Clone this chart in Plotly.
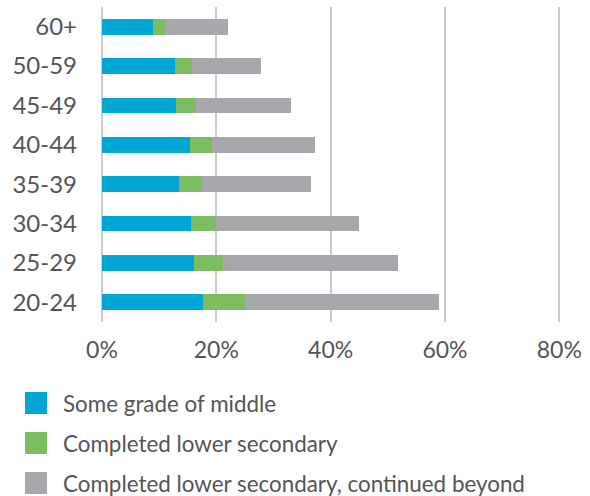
import plotly.graph_objects as go

# Age groups, top to bottom as shown
age_groups = ["60+", "50-59", "45-49", "40-44", "35-39", "30-34", "25-29", "20-24"]

# Share of each age group (%) by schooling level
some_middle = [8.9, 12.8, 12.9, 15.4, 13.5, 15.6, 16.1, 17.7]
completed_lower = [2.3, 3.0, 3.6, 3.8, 4.0, 4.4, 5.0, 7.4]
continued_beyond = [10.9, 12.0, 16.5, 18.1, 19.0, 24.9, 30.7, 33.9]

series_names = ["Some grade of middle", "Completed lower secondary",
                "Completed lower secondary, continued beyond"]
series_colors = ["#02A6D4", "#7DBD62", "#A7A8AC"]
x_ticks = [0, 20, 40, 60, 80]
x_tick_labels = [f"{v}%" for v in x_ticks]

W, H = 590, 496
L, R, T, B = 102, 29, 7, 174
plot_w = W - L - R
plot_h = H - T - B


def px_x(x):
    return (x - L) / plot_w


def px_y(y):
    return (H - B - y) / plot_h


fig = go.Figure()
for name, vals, color in zip(series_names,
                             [some_middle, completed_lower, continued_beyond],
                             series_colors):
    fig.add_trace(go.Bar(y=age_groups, x=vals, name=name, orientation="h",
                         marker=dict(color=color, line=dict(width=0)),
                         showlegend=False))

# hand-made legend to match the big squares and spacing
shapes = []
annotations = []
for i, (name, color) in enumerate(zip(series_names, series_colors)):
    cy = 403 + 40 * i
    shapes.append(dict(type="rect", xref="paper", yref="paper",
                       x0=px_x(25), x1=px_x(47), y0=px_y(cy + 11), y1=px_y(cy - 11),
                       fillcolor=color, line=dict(width=0)))
    annotations.append(dict(text=name, xref="paper", yref="paper",
                            x=px_x(61), y=px_y(cy), xanchor="left", yanchor="middle",
                            showarrow=False, font=dict(size=22.4, color="#555555")))

fig.update_layout(
    width=W, height=H,
    margin=dict(l=L, r=R, t=T, b=B, autoexpand=False),
    barmode="stack",
    bargap=0.6,
    plot_bgcolor="white",
    paper_bgcolor="white",
    font=dict(family="Lato", color="#555555"),
    shapes=shapes,
    annotations=annotations,
)
fig.update_xaxes(range=[0, 80.3], tickmode="array", tickvals=x_ticks,
                 ticktext=x_tick_labels,
                 showgrid=True, gridcolor="#CCCCCC", gridwidth=2,
                 zeroline=True, zerolinecolor="#CCCCCC", zerolinewidth=2,
                 tickfont=dict(size=23, color="#555555"), ticklabelstandoff=12,
                 automargin=False, fixedrange=True)
fig.update_yaxes(autorange="reversed", showgrid=False, automargin=False,
                 tickfont=dict(size=24, color="#555555"), ticklabelstandoff=24)

# page body has a default margin; drop it so the figure fills the window
fig.write_html("out.html", config={"displayModeBar": False},
               post_script="document.body.style.margin='0';")
